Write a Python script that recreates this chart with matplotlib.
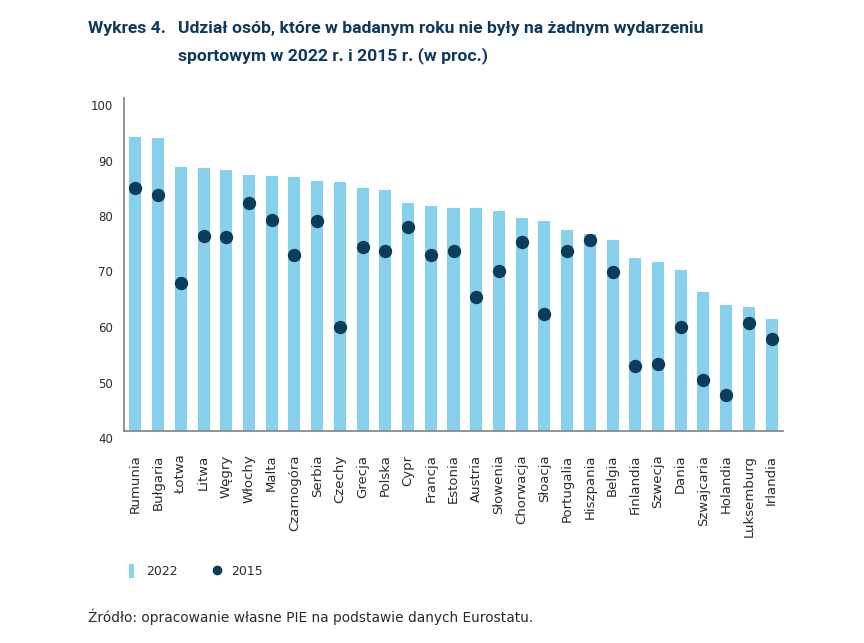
import matplotlib
matplotlib.use('Agg')
import matplotlib.pyplot as plt
import matplotlib.transforms as mtransforms
from matplotlib.patches import Patch
from matplotlib.lines import Line2D

countries = ['Rumunia', 'Bułgaria', 'Łotwa', 'Litwa', 'Węgry', 'Włochy', 'Malta',
             'Czarnogóra', 'Serbia', 'Czechy', 'Grecja', 'Polska', 'Cypr', 'Francja',
             'Estonia', 'Austria', 'Słowenia', 'Chorwacja', 'Słoacja', 'Portugalia',
             'Hiszpania', 'Belgia', 'Finlandia', 'Szwecja', 'Dania', 'Szwajcaria',
             'Holandia', 'Luksemburg', 'Irlandia']
share_2022 = [92.9, 92.8, 87.6, 87.3, 87.0, 86.1, 86.0, 85.8, 85.0, 84.9, 83.8, 83.4,
              81.0, 80.5, 80.2, 80.1, 79.6, 78.3, 77.8, 76.2, 75.5, 74.4, 71.2, 70.4,
              69.0, 65.0, 62.7, 62.3, 60.1]
share_2015 = [83.7, 82.5, 66.6, 75.1, 75.0, 81.1, 78.0, 71.8, 77.9, 58.7, 73.1, 72.5,
              76.8, 71.7, 72.5, 64.2, 68.8, 74.1, 61.1, 72.5, 74.5, 68.7, 51.8, 52.1,
              58.8, 49.1, 46.5, 59.5, 56.5]
y_ticks = [40, 50, 60, 70, 80, 90, 100]

BAR = '#87d1ed'
DOT = '#0b3c5a'
NAVY = '#0d3a5c'
TXT = '#2b2b2b'
TITLE_FONT = ['Roboto', 'DejaVu Sans']

plt.rcParams['font.family'] = ['DejaVu Sans']

fig = plt.figure(figsize=(8.64, 6.43), dpi=100)
ax = fig.add_axes([124 / 864, 1 - 431 / 643, (783 - 124) / 864, (431 - 98) / 643])

x = range(len(countries))
ax.bar(x, share_2022, width=0.53, color=BAR, zorder=2)
ax.plot(x, share_2015, 'o', color=DOT, markersize=8.6, linestyle='none', zorder=3)

ax.set_ylim(40, 100)
ax.set_xlim(-0.5, len(countries) - 0.5)
ax.set_yticks(y_ticks)
ax.set_xticks(list(x))
ax.set_xticklabels(countries, rotation=90, fontsize=9.5, color=TXT)
ax.tick_params(axis='both', length=0, colors=TXT)
ax.tick_params(axis='y', pad=8, labelsize=8.5)
ax.tick_params(axis='x', pad=17)

# y labels in the reference sit a little below their ticks
offset = mtransforms.ScaledTranslation(0, -7 / 100, fig.dpi_scale_trans)
for lab in ax.get_yticklabels():
    lab.set_transform(lab.get_transform() + offset)

for side in ['top', 'right']:
    ax.spines[side].set_visible(False)
for side in ['left', 'bottom']:
    ax.spines[side].set_color('#8a8a8a')
    ax.spines[side].set_linewidth(1.3)

# title
fig.text(88 / 864, 1 - 28 / 643, 'Wykres 4.', fontsize=12.6, fontweight='bold',
         color=NAVY, va='center', family=TITLE_FONT)
fig.text(178 / 864, 1 - 28 / 643,
         'Udział osób, które w badanym roku nie były na żadnym wydarzeniu',
         fontsize=12.6, fontweight='bold', color=NAVY, va='center', family=TITLE_FONT)
fig.text(178 / 864, 1 - 56 / 643, 'sportowym w 2022 r. i 2015 r. (w proc.)',
         fontsize=12.6, fontweight='bold', color=NAVY, va='center', family=TITLE_FONT)

handles = [Patch(facecolor=BAR, edgecolor='none'),
           Line2D([], [], marker='o', color=DOT, linestyle='none', markersize=6)]
fig.legend(handles, ['2022', '2015'], loc='center left',
           bbox_to_anchor=(129 / 864, 1 - 571 / 643), ncol=2, frameon=False,
           fontsize=9, handlelength=0.4, handleheight=1.3, handletextpad=0.95,
           columnspacing=2.95, borderaxespad=0, borderpad=0, labelcolor=TXT)

fig.text(88 / 864, 1 - 617 / 643, 'Źródło: opracowanie własne PIE na podstawie danych Eurostatu.',
         fontsize=9.9, color=TXT, va='center')

fig.savefig('out.png', dpi=100)
